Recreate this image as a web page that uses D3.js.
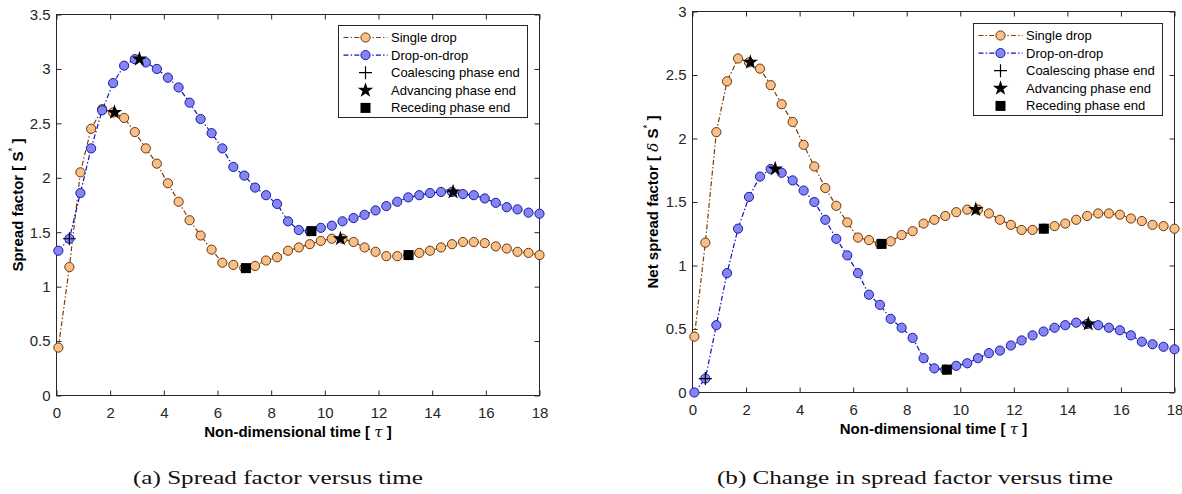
<!DOCTYPE html>
<html>
<head>
<meta charset="utf-8">
<script src="https://cdn.jsdelivr.net/npm/d3@7"></script>
<style>
  html, body { margin: 0; padding: 0; background: #fff; }
  svg { display: block; }
  text { font-family: "Liberation Sans", Arial, sans-serif; }
</style>
</head>
<body>
<script>
// Non-dimensional time of each frame
const tau = [0.07, 0.48, 0.89, 1.29, 1.70, 2.11, 2.52, 2.92, 3.33, 3.74,
             4.15, 4.55, 4.96, 5.37, 5.78, 6.18, 6.59, 7.00, 7.40, 7.81,
             8.22, 8.63, 9.03, 9.44, 9.85, 10.26, 10.66, 11.07, 11.48, 11.89,
             12.29, 12.70, 13.11, 13.52, 13.92, 14.33, 14.74, 15.15, 15.55, 15.96,
             16.37, 16.78, 17.18, 17.59, 18.00];

// (a) spread factor S*
const spreadSingle = [0.44, 1.18, 2.05, 2.45, 2.63, 2.60, 2.55, 2.42, 2.27, 2.13,
                      1.95, 1.78, 1.61, 1.47, 1.34, 1.22, 1.20, 1.17, 1.19, 1.24,
                      1.27, 1.33, 1.36, 1.39, 1.42, 1.44, 1.44, 1.41, 1.36, 1.32,
                      1.28, 1.28, 1.29, 1.31, 1.33, 1.36, 1.39, 1.41, 1.41, 1.40,
                      1.37, 1.35, 1.32, 1.31, 1.29];
const spreadDrop = [1.33, 1.44, 1.86, 2.27, 2.62, 2.87, 3.03, 3.09, 3.06, 3.00,
                    2.92, 2.83, 2.69, 2.54, 2.41, 2.27, 2.10, 2.02, 1.91, 1.84,
                    1.76, 1.60, 1.52, 1.51, 1.54, 1.56, 1.60, 1.63, 1.66, 1.70,
                    1.74, 1.78, 1.82, 1.84, 1.86, 1.87, 1.87, 1.85, 1.84, 1.81,
                    1.77, 1.73, 1.71, 1.68, 1.67];

// (b) net spread factor dS*
const netSingle = [0.44, 1.18, 2.05, 2.45, 2.63, 2.60, 2.55, 2.42, 2.27, 2.13,
                   1.95, 1.78, 1.61, 1.47, 1.34, 1.22, 1.20, 1.17, 1.19, 1.24,
                   1.27, 1.33, 1.36, 1.39, 1.42, 1.44, 1.44, 1.41, 1.36, 1.32,
                   1.28, 1.28, 1.29, 1.31, 1.33, 1.36, 1.39, 1.41, 1.41, 1.40,
                   1.37, 1.35, 1.32, 1.31, 1.29];
const netDrop = [0.00, 0.11, 0.53, 0.94, 1.29, 1.54, 1.70, 1.76, 1.73, 1.67,
                 1.59, 1.50, 1.36, 1.21, 1.08, 0.94, 0.77, 0.69, 0.58, 0.51,
                 0.43, 0.27, 0.19, 0.18, 0.21, 0.23, 0.27, 0.31, 0.33, 0.37,
                 0.41, 0.45, 0.48, 0.51, 0.53, 0.55, 0.54, 0.53, 0.51, 0.49,
                 0.45, 0.40, 0.38, 0.36, 0.34];

// Phase-end events
const coalesceTau = [0.48];
const coalesceSpread = [1.44];
const coalesceNet = [0.11];
const advanceTau = [2.16, 10.58, 3.09, 14.78];
const advanceSpread = [2.60, 1.44, 3.09, 1.87];
const advanceNet = [2.60, 1.44, 1.76, 0.54];
const recedeTau = [7.06, 13.12, 9.50];
const recedeSpread = [1.17, 1.29, 1.51];
const recedeNet = [1.17, 1.29, 0.18];

// Axis ticks
const xTicks = [0, 2, 4, 6, 8, 10, 12, 14, 16, 18];
const yTicksA = [0, 0.5, 1, 1.5, 2, 2.5, 3, 3.5];
const yTicksB = [0, 0.5, 1, 1.5, 2, 2.5, 3];

const seriesNames = ["Single drop", "Drop-on-drop"];
const eventNames = ["Coalescing phase end", "Advancing phase end", "Receding phase end"];
const captions = ["(a) Spread factor versus time", "(b) Change in spread factor versus time"];

const styles = [
  { line: "#7a3d05", face: "#f8bf88", edge: "#6a3608" },
  { line: "#1010c8", face: "#8585f2", edge: "#1a1aa8" }
];
const axisColor = "#262626";

const W = 1182, H = 494;
const svg = d3.select("body").append("svg")
  .attr("width", W).attr("height", H)
  .attr("viewBox", `0 0 ${W} ${H}`);
svg.append("rect").attr("width", W).attr("height", H).attr("fill", "#fff");

const panels = [
  {
    box: { l: 56.5, r: 539.5, t: 14.5, b: 395.5 }, yMax: 3.5, yTicks: yTicksA,
    series: [spreadSingle, spreadDrop],
    coalesce: coalesceSpread, advance: advanceSpread, recede: recedeSpread,
    yLabel: "a", yLabelX: 23, legend: { x: 338.5, y: 25.5 },
    caption: captions[0], capX: 278, capW: 290
  },
  {
    box: { l: 692.5, r: 1174.5, t: 11.5, b: 392.5 }, yMax: 3, yTicks: yTicksB,
    series: [netSingle, netDrop],
    coalesce: coalesceNet, advance: advanceNet, recede: recedeNet,
    yLabel: "b", yLabelX: 658, legend: { x: 973.5, y: 23.5 },
    caption: captions[1], capX: 915, capW: 396
  }
];

const crossPath = h => `M${-h},0H${h}M0,${-h}V${h}`;
const starPath = d3.symbol().type(d3.symbolStar).size(74)();
const squarePath = d3.symbol().type(d3.symbolSquare).size(100)();
const dash = "5,2.2,1.4,2.2";

panels.forEach(p => {
  const { l, r, t, b } = p.box;
  const x = d3.scaleLinear().domain([0, 18]).range([l, r]);
  const y = d3.scaleLinear().domain([0, p.yMax]).range([b, t]);
  const g = svg.append("g");

  // axes with inward ticks on all four sides
  const fmt = d3.format("~g");
  const ax = (sel) => sel.selectAll("path.domain").remove();
  g.append("g").attr("transform", `translate(0,${b})`)
    .call(d3.axisBottom(x).tickValues(xTicks).tickFormat(fmt).tickSize(-5).tickPadding(11.5))
    .call(ax);
  g.append("g").attr("transform", `translate(0,${t})`)
    .call(d3.axisTop(x).tickValues(xTicks).tickFormat("").tickSize(-5))
    .call(ax);
  g.append("g").attr("transform", `translate(${l},0)`)
    .call(d3.axisLeft(y).tickValues(p.yTicks).tickFormat(fmt).tickSize(-5).tickPadding(6))
    .call(ax);
  g.append("g").attr("transform", `translate(${r},0)`)
    .call(d3.axisRight(y).tickValues(p.yTicks).tickFormat("").tickSize(-5))
    .call(ax);
  g.selectAll(".tick line").attr("stroke", axisColor).attr("stroke-width", 1);
  g.selectAll(".tick text").attr("fill", axisColor)
    .style("font-family", "'Liberation Sans', Arial, sans-serif").style("font-size", "15px");
  g.append("rect").attr("x", l).attr("y", t).attr("width", r - l).attr("height", b - t)
    .attr("fill", "none").attr("stroke", axisColor).attr("stroke-width", 1);

  // data series
  p.series.forEach((vals, si) => {
    const st = styles[si];
    const pts = tau.map((tv, i) => [tv, vals[i]]);
    g.append("path").datum(pts)
      .attr("d", d3.line().x(d => x(d[0])).y(d => y(d[1])))
      .attr("fill", "none").attr("stroke", st.line).attr("stroke-width", 1.2)
      .attr("stroke-dasharray", dash);
    g.append("g").selectAll("circle").data(pts).join("circle")
      .attr("cx", d => x(d[0])).attr("cy", d => y(d[1])).attr("r", 4.6)
      .attr("fill", st.face).attr("stroke", st.edge).attr("stroke-width", 1);
  });

  // phase-end markers
  g.append("g").selectAll("path").data(coalesceTau.map((tv, i) => [tv, p.coalesce[i]])).join("path")
    .attr("d", crossPath(6.5))
    .attr("transform", d => `translate(${x(d[0])},${y(d[1])})`)
    .attr("stroke", "#000").attr("stroke-width", 1.2).attr("fill", "none");
  g.append("g").selectAll("path").data(advanceTau.map((tv, i) => [tv, p.advance[i]])).join("path")
    .attr("d", starPath)
    .attr("transform", d => `translate(${x(d[0])},${y(d[1])})`)
    .attr("fill", "#000");
  g.append("g").selectAll("path").data(recedeTau.map((tv, i) => [tv, p.recede[i]])).join("path")
    .attr("d", squarePath)
    .attr("transform", d => `translate(${x(d[0])},${y(d[1])})`)
    .attr("fill", "#000");

  // axis titles
  const xl = g.append("text")
    .attr("x", (l + r) / 2).attr("y", b + 41)
    .attr("text-anchor", "middle").attr("font-weight", "bold").attr("font-size", 15).attr("fill", "#000");
  xl.append("tspan").text("Non-dimensional time [ ");
  xl.append("tspan").attr("font-style", "italic").attr("font-weight", "normal")
    .style("font-family", "'DejaVu Serif', serif").text("τ");
  xl.append("tspan").text(" ]");

  const yl = g.append("text")
    .attr("transform", `translate(${p.yLabelX},${(t + b) / 2}) rotate(-90)`)
    .attr("text-anchor", "middle").attr("font-weight", "bold").attr("font-size", 15).attr("fill", "#000");
  if (p.yLabel === "a") {
    yl.append("tspan").text("Spread factor [ S");
  } else {
    yl.append("tspan").text("Net spread factor [ ");
    yl.append("tspan").attr("font-style", "italic").attr("font-weight", "normal")
      .style("font-family", "'DejaVu Serif', serif").text("δ");
    yl.append("tspan").text(" S");
  }
  yl.append("tspan").attr("dy", -7).attr("font-size", 10).attr("font-weight", "normal").text("*");
  yl.append("tspan").attr("dy", 7).text(" ]");

  // legend
  const lg = g.append("g").attr("transform", `translate(${p.legend.x},${p.legend.y})`);
  lg.append("rect").attr("width", 189).attr("height", 92)
    .attr("fill", "#fff").attr("stroke", axisColor).attr("stroke-width", 1);
  const rowY = i => 12 + i * 17.6;
  const symX = 27;
  seriesNames.forEach((name, i) => {
    const st = styles[i];
    lg.append("line").attr("x1", 5).attr("x2", 49).attr("y1", rowY(i)).attr("y2", rowY(i))
      .attr("stroke", st.line).attr("stroke-width", 1.2).attr("stroke-dasharray", dash);
    lg.append("circle").attr("cx", symX).attr("cy", rowY(i)).attr("r", 4.6)
      .attr("fill", st.face).attr("stroke", st.edge).attr("stroke-width", 1);
  });
  lg.append("path").attr("d", crossPath(6.5)).attr("transform", `translate(${symX},${rowY(2)})`)
    .attr("stroke", "#000").attr("stroke-width", 1.2);
  lg.append("path").attr("d", starPath).attr("transform", `translate(${symX},${rowY(3)})`).attr("fill", "#000");
  lg.append("path").attr("d", squarePath).attr("transform", `translate(${symX},${rowY(4)})`).attr("fill", "#000");
  seriesNames.concat(eventNames).forEach((name, i) => {
    lg.append("text").attr("x", 52.5).attr("y", rowY(i)).attr("dy", "0.35em")
      .attr("font-size", 13).attr("fill", "#000").text(name);
  });

  // caption
  svg.append("text")
    .attr("x", p.capX).attr("y", 484).attr("text-anchor", "middle")
    .style("font-family", "'Liberation Serif', 'DejaVu Serif', serif")
    .attr("font-size", 19).attr("fill", "#111")
    .attr("textLength", p.capW).attr("lengthAdjust", "spacingAndGlyphs")
    .text(p.caption);
});
</script>
</body>
</html>
